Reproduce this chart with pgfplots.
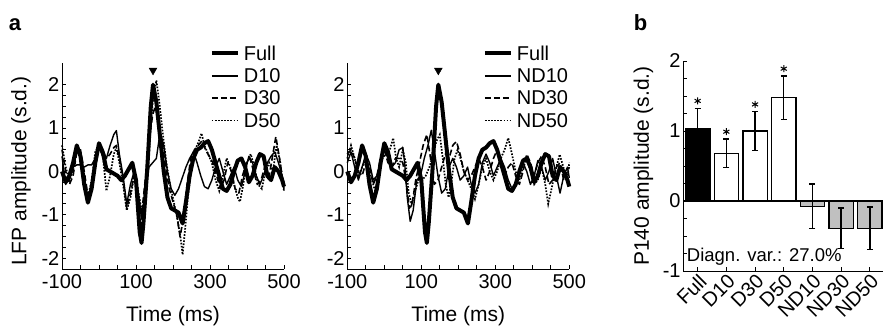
\documentclass[border=0pt]{standalone}
\usepackage{fontspec}
\setmainfont{Liberation Sans}
\usepackage{pgfplots}
\pgfplotsset{compat=1.18}

\pgfplotsset{
  common/.style={
    scale only axis,
    axis x line*=bottom, axis y line*=left,
    axis line style={-, line width=0.9pt},
    tick align=inside,
    major tick length=4pt, minor tick length=4pt,
    tick style={black, line width=0.9pt},
    /pgf/number format/assume math mode=true,
    tick label style={font=\fontsize{20}{22}\selectfont},
    clip=false,
  },
  lfp/.style={
    common,
    width=222pt, height=206pt,
    xmin=-100, xmax=500, ymin=-2.25, ymax=2.5,
    xtick={-100,100,300,500},
    minor xtick={-50,0,50,150,200,250,350,400,450},
    ytick={-2,-1,0,1,2}, minor y tick num=3,
    yticklabel style={inner sep=2.5pt},
    xticklabel style={inner sep=5.5pt},
    every axis x label/.style={at={(axis description cs:0.5,-0.228)}, anchor=center, font=\fontsize{21}{24}\selectfont},
    every axis y label/.style={at={(axis description cs:-0.185,0.475)}, rotate=90, anchor=center, font=\fontsize{21}{24}\selectfont},
    legend cell align=left,
    legend image code/.code={\draw[#1] (0pt,0pt) -- (26pt,0pt);},
    legend style={draw=none, fill=none, inner sep=0pt,
      font=\fontsize{20}{22}\selectfont, row sep=6.9pt,
      nodes={inner sep=1pt, text height=13.5pt, text depth=0pt},
      /tikz/every odd column/.append style={column sep=3pt}},
  },
  full/.style={black, line width=4pt, line join=round},
  d10/.style={black, line width=1.4pt, line join=round},
  d30/.style={black, line width=1.6pt, dash pattern=on 6pt off 3pt, line join=round},
  d50/.style={black, line width=1.7pt, dash pattern=on 1.6pt off 1.5pt},
}

\begin{document}
\begin{tikzpicture}
\useasboundingbox (0pt,0pt) rectangle (886pt,327pt);
\node[anchor=base, font=\fontsize{22}{26}\selectfont\bfseries] at (15pt,296pt) {a};
\node[anchor=base, font=\fontsize{22}{26}\selectfont\bfseries] at (640.5pt,296pt) {b};

% ---------------- left panel ----------------
\begin{axis}[lfp, at={(62pt,58pt)}, anchor=south west,
  xlabel={Time (ms)}, ylabel={LFP amplitude (s.d.)},
  legend style={at={(0.665,1.085)}, anchor=north west}]
\addplot[full] coordinates {(-100,0.0) (-90,-0.25) (-80,-0.1) (-70,0.2) (-60,0.6) (-50,0.35) (-40,-0.3) (-30,-0.72) (-20,-0.4) (-10,0.2) (0,0.65) (10,0.45) (20,0.05) (30,0.0) (40,-0.05) (50,-0.1) (60,-0.2) (70,-0.1) (80,0.05) (90,0.2) (100,-0.2) (110,-1.4) (115,-1.65) (120,-1.2) (130,0.0) (140,1.5) (146,2.0) (155,1.6) (165,0.8) (175,0.0) (185,-0.6) (195,-0.85) (205,-0.9) (215,-0.95) (226,-1.2) (235,-0.7) (245,-0.1) (255,0.3) (265,0.5) (275,0.55) (285,0.65) (295,0.7) (305,0.5) (315,0.2) (325,-0.1) (335,-0.4) (345,-0.45) (355,-0.3) (365,0.0) (375,0.25) (385,0.3) (395,0.1) (405,-0.25) (415,-0.1) (425,0.2) (435,0.4) (445,0.35) (455,-0.1) (465,-0.2) (475,0.1) (485,0.0) (495,-0.2) (500,-0.35)};
\addlegendentry{Full}
\addplot[d10] coordinates {(-100,0.35) (-90,-0.3) (-80,-0.1) (-70,0.1) (-60,0.15) (-50,0.15) (-40,0.1) (-30,0.15) (-20,0.15) (-10,0.3) (0,0.55) (10,0.35) (20,0.3) (30,0.6) (40,0.85) (47,0.94) (55,0.4) (65,-0.1) (75,-0.75) (85,-0.3) (95,0.0) (105,-0.4) (115,-1.1) (125,-0.5) (135,0.1) (145,0.2) (155,0.3) (165,0.9) (175,0.6) (185,0.0) (195,-0.4) (205,-0.55) (215,-0.4) (225,-0.15) (235,0.1) (245,0.3) (255,0.45) (265,0.2) (275,-0.1) (285,-0.35) (295,-0.4) (305,-0.2) (315,0.1) (325,0.3) (335,0.0) (345,-0.3) (355,-0.1) (365,0.1) (375,-0.2) (385,-0.35) (395,0.0) (405,0.35) (415,0.2) (425,-0.1) (435,-0.3) (445,-0.1) (455,0.2) (465,0.35) (475,0.45) (485,0.2) (495,-0.1) (500,-0.25)};
\addlegendentry{D10}
\addplot[d30] coordinates {(-100,0.5) (-90,0.0) (-80,-0.3) (-70,-0.1) (-60,0.45) (-50,0.5) (-40,0.0) (-30,-0.55) (-20,-0.3) (-10,0.3) (0,0.6) (10,0.5) (20,0.3) (30,0.4) (40,0.55) (47,0.6) (55,0.3) (65,-0.2) (75,-0.85) (85,-0.5) (95,-0.1) (105,-0.5) (115,-1.0) (125,-0.2) (135,0.7) (145,1.3) (152,1.5) (160,1.2) (170,0.7) (180,0.1) (190,-0.4) (200,-0.7) (210,-1.0) (219,-1.5) (228,-1.1) (238,-0.3) (248,0.3) (258,0.5) (268,0.6) (278,0.7) (288,0.5) (298,0.35) (308,0.2) (318,-0.1) (328,-0.4) (338,-0.2) (348,0.2) (358,0.0) (368,-0.4) (378,-0.5) (388,-0.1) (398,0.2) (408,0.3) (418,0.0) (428,-0.3) (438,-0.2) (448,0.1) (458,-0.2) (468,0.3) (478,0.8) (488,0.3) (500,-0.4)};
\addlegendentry{D30}
\addplot[d50] coordinates {(-100,0.6) (-90,0.1) (-80,-0.2) (-70,0.0) (-60,0.5) (-50,0.3) (-40,-0.2) (-30,-0.6) (-20,-0.2) (-10,0.45) (0,0.6) (10,0.4) (20,-0.45) (30,-0.1) (40,0.4) (47,0.55) (55,0.2) (65,-0.3) (75,-0.9) (85,-0.6) (95,-0.1) (105,-0.4) (115,-0.9) (125,-0.6) (135,0.4) (145,1.6) (155,2.1) (163,1.6) (172,0.9) (182,0.2) (192,-0.3) (202,-0.7) (212,-1.1) (220,-1.5) (226,-1.92) (232,-1.4) (240,-0.6) (250,0.1) (260,0.5) (270,0.7) (277,0.88) (285,0.6) (295,0.4) (305,0.2) (315,-0.2) (325,-0.45) (335,-0.1) (345,0.3) (355,0.1) (365,-0.3) (375,-0.6) (381,-0.7) (390,-0.3) (400,0.2) (410,0.4) (420,0.1) (430,-0.3) (440,-0.4) (450,0.0) (460,0.2) (470,0.0) (480,0.6) (490,0.2) (500,-0.45)};
\addlegendentry{D50}
\addplot[only marks, mark=triangle*, mark size=4.5pt, mark options={rotate=180, fill=black}, forget plot] coordinates {(146,2.33)};
\end{axis}

% ---------------- middle panel ----------------
\begin{axis}[lfp, at={(347.3pt,58pt)}, anchor=south west,
  xlabel={Time (ms)},
  legend style={at={(0.61,1.085)}, anchor=north west}]
\addplot[full] coordinates {(-100,0.0) (-90,-0.25) (-80,-0.1) (-70,0.2) (-60,0.6) (-50,0.35) (-40,-0.3) (-30,-0.72) (-20,-0.4) (-10,0.2) (0,0.65) (10,0.45) (20,0.05) (30,0.0) (40,-0.05) (50,-0.1) (60,-0.2) (70,-0.1) (80,0.05) (90,0.2) (100,-0.2) (110,-1.4) (115,-1.65) (120,-1.2) (130,0.0) (140,1.5) (146,2.0) (155,1.6) (165,0.8) (175,0.0) (185,-0.6) (195,-0.85) (205,-0.9) (215,-0.95) (226,-1.2) (235,-0.7) (245,-0.1) (255,0.3) (265,0.5) (275,0.55) (285,0.65) (295,0.7) (305,0.5) (315,0.2) (325,-0.1) (335,-0.4) (345,-0.45) (355,-0.3) (365,0.0) (375,0.25) (385,0.3) (395,0.1) (405,-0.25) (415,-0.1) (425,0.2) (435,0.4) (445,0.35) (455,-0.1) (465,-0.2) (475,0.1) (485,0.0) (495,-0.2) (500,-0.35)};
\addlegendentry{Full}
\addplot[d10] coordinates {(-100,0.2) (-90,0.45) (-80,0.1) (-70,-0.2) (-60,0.1) (-50,0.4) (-40,0.2) (-30,-0.2) (-20,-0.1) (-10,0.2) (0,0.5) (10,0.3) (20,0.1) (30,0.2) (40,0.5) (50,0.55) (55,0.2) (62,-0.6) (70,-1.15) (78,-0.9) (88,-0.2) (98,-0.1) (108,0.3) (118,0.6) (127,0.95) (135,0.5) (145,-0.1) (155,-0.5) (165,-0.4) (175,0.1) (185,0.3) (195,0.1) (205,-0.2) (215,-0.1) (225,0.1) (235,-0.3) (245,-0.5) (255,-0.3) (265,0.2) (275,0.4) (285,0.2) (295,-0.1) (305,0.1) (315,0.3) (325,0.1) (335,-0.2) (345,-0.4) (355,-0.3) (365,0.0) (375,0.2) (385,0.0) (395,-0.3) (405,-0.1) (415,0.25) (425,0.1) (435,-0.2) (445,0.0) (455,0.3) (465,-0.1) (475,-0.5) (485,-0.1) (495,0.1) (500,-0.15)};
\addlegendentry{ND10}
\addplot[d30] coordinates {(-100,0.4) (-90,0.5) (-80,0.3) (-70,0.0) (-60,-0.1) (-50,0.2) (-40,0.1) (-30,-0.3) (-20,-0.1) (-10,0.3) (0,0.5) (10,0.2) (20,0.1) (30,0.3) (40,0.3) (50,0.2) (60,-0.3) (68,-0.85) (76,-0.7) (85,-0.2) (95,0.2) (105,0.6) (115,0.85) (125,0.3) (135,-0.3) (145,-0.2) (155,0.1) (165,0.4) (175,0.3) (185,0.6) (195,0.69) (205,0.4) (215,0.0) (225,-0.2) (235,-0.1) (245,0.1) (255,0.3) (265,0.1) (275,-0.2) (285,0.0) (295,0.3) (305,0.5) (315,0.2) (325,-0.1) (335,0.1) (345,0.2) (355,-0.1) (365,-0.3) (375,0.0) (385,0.4) (395,0.2) (405,-0.1) (415,0.2) (425,0.35) (435,0.1) (445,-0.3) (455,-0.2) (465,0.1) (475,0.2) (485,-0.2) (495,0.0) (500,0.1)};
\addlegendentry{ND30}
\addplot[d50] coordinates {(-100,0.3) (-90,0.6) (-80,0.3) (-70,-0.1) (-60,0.1) (-50,0.3) (-40,0.0) (-30,-0.3) (-25,-0.45) (-15,-0.1) (-5,0.3) (5,0.4) (15,0.5) (24,0.77) (32,0.3) (40,0.1) (50,0.5) (58,0.2) (66,-0.5) (74,-0.76) (82,-0.5) (92,-0.2) (102,-0.2) (112,-0.1) (122,0.1) (132,0.4) (141,0.7) (150,0.85) (158,0.3) (166,-0.3) (174,-0.6) (182,-0.2) (190,0.3) (198,0.5) (206,0.3) (215,0.0) (225,-0.2) (235,-0.4) (245,-0.64) (255,-0.3) (265,0.1) (275,0.3) (285,0.0) (295,-0.2) (305,0.0) (315,0.3) (325,0.5) (335,0.77) (345,0.4) (355,0.0) (365,-0.2) (375,0.1) (385,0.3) (395,0.0) (405,-0.3) (415,-0.2) (425,0.1) (435,-0.3) (443,-0.75) (452,-0.4) (462,0.0) (474,0.39) (484,0.1) (494,-0.2) (500,0.2)};
\addlegendentry{ND50}
\addplot[only marks, mark=triangle*, mark size=4.5pt, mark options={rotate=180, fill=black}, forget plot] coordinates {(146,2.33)};
\end{axis}

% ---------------- bar panel ----------------
\begin{axis}[common, at={(683.3pt,56pt)}, anchor=south west,
  width=199.5pt, height=210pt,
  xmin=-0.5, xmax=6.45, ymin=-1, ymax=2,
  xtick={0,1,2,3,4,5,6},
  xticklabels={Full,D10,D30,D50,ND10,ND30,ND50},
  x tick label style={rotate=45, anchor=north east, inner sep=1pt, font=\fontsize{20}{22}\selectfont},
  ytick={-1,0,1,2}, minor y tick num=3,
  yticklabel style={inner sep=2.5pt},
  ylabel={P140 amplitude (s.d.)},
  every axis y label/.style={at={(axis description cs:-0.2,0.5)}, rotate=90, anchor=center, font=\fontsize{21}{24}\selectfont},
  bar width=24.4pt,
  error bars/error bar style={line width=1.4pt, black},
  error bars/error mark options={line width=1.4pt, mark size=3pt, black, rotate=90},
]
\addplot[ybar, bar shift=0pt, fill=black, draw=black, line width=1.3pt,
  error bars/.cd, y dir=both, y explicit]
  coordinates {(0,1.03) +- (0,0.29)};
\addplot[ybar, bar shift=0pt, fill=white, draw=black, line width=1.3pt,
  error bars/.cd, y dir=both, y explicit]
  coordinates {(1,0.68) +- (0,0.205) (2,1.0) +- (0,0.275) (3,1.475) +- (0,0.31)};
\addplot[ybar, bar shift=0pt, fill={rgb,255:red,192;green,192;blue,192}, draw=black, line width=1.3pt,
  error bars/.cd, y dir=both, y explicit]
  coordinates {(4,-0.075) +- (0,0.32) (5,-0.39) +- (0,0.29) (6,-0.39) +- (0,0.305)};
\addplot[black, line width=1.3pt, forget plot] coordinates {(-0.5,0) (6.45,0)};
\addplot[only marks, mark=asterisk, mark size=3.5pt, mark options={line width=1pt, black}] coordinates {(0,1.43) (1,0.99) (2,1.38) (3,1.89)};
\node[anchor=west, inner sep=0pt, font=\fontsize{18.5}{22}\selectfont] at (axis cs:-0.38,-0.79) {Diagn. var.: 27.0\%};
\end{axis}
\end{tikzpicture}
\end{document}
